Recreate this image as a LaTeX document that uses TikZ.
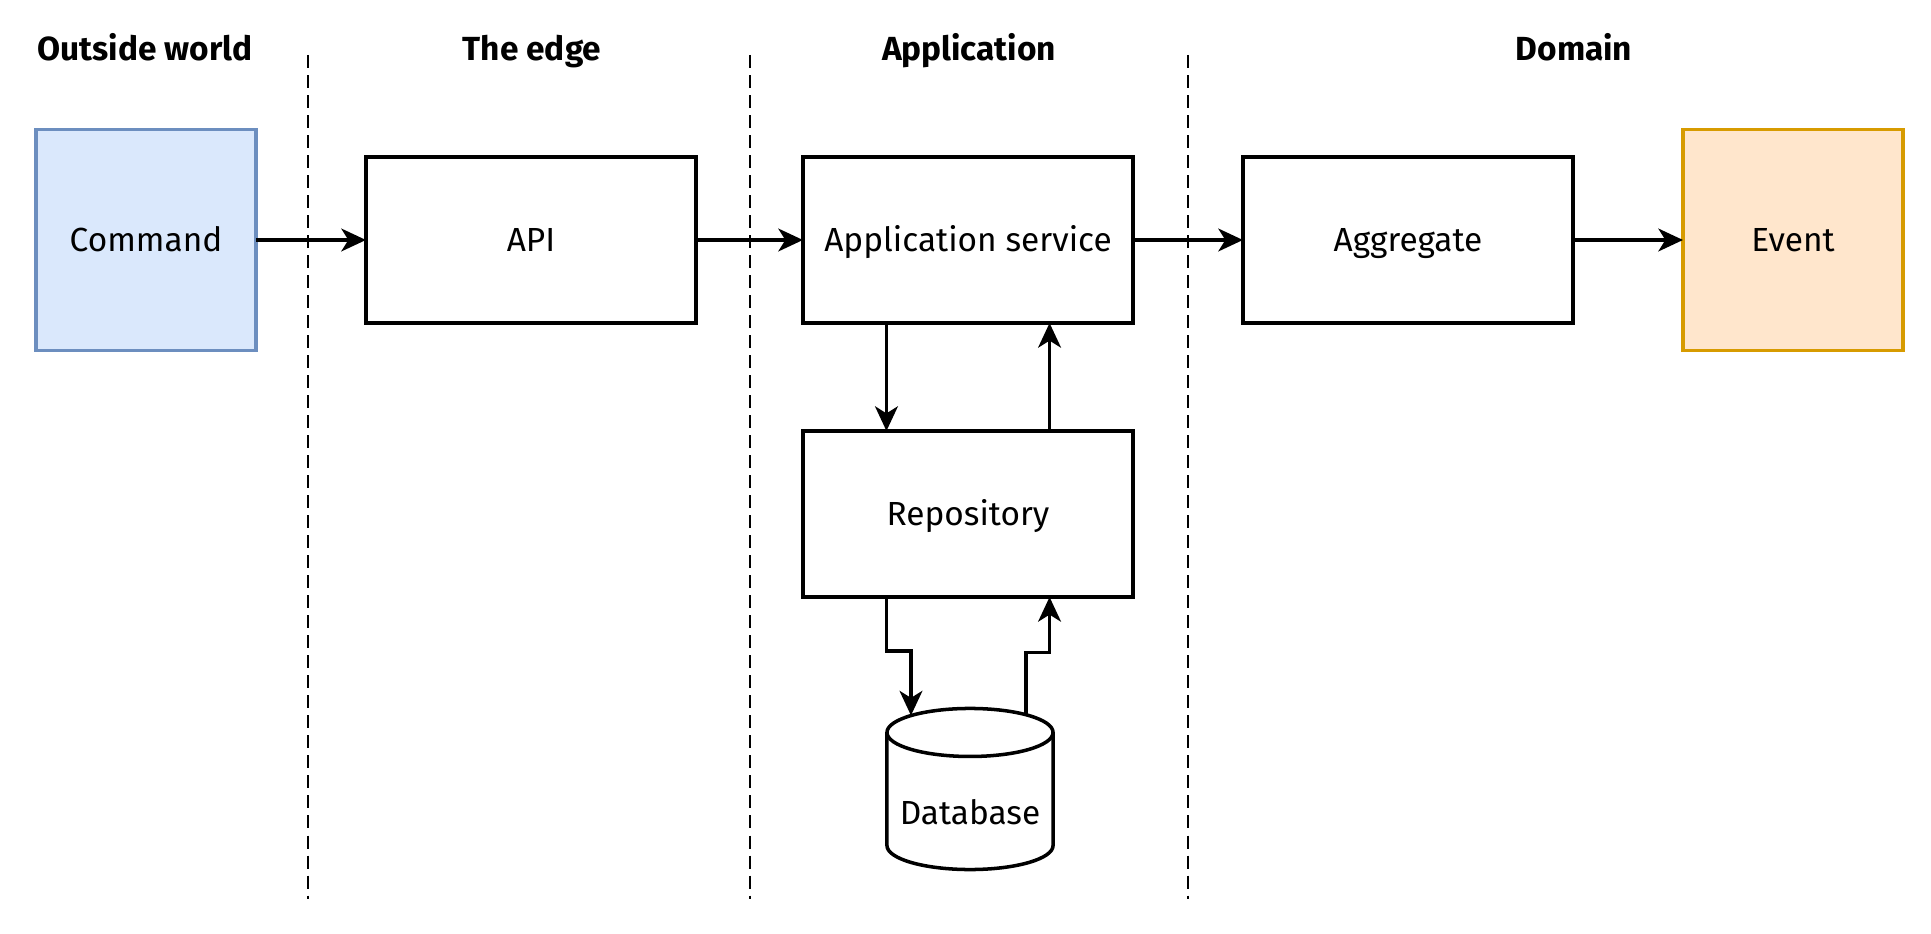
\documentclass[tikz,border=0pt]{standalone}
\usepackage{fontspec}
\setmainfont{Fira Sans}
\usepackage{xcolor}
\usetikzlibrary{arrows.meta}
\definecolor{cmdfill}{HTML}{DAE8FC}
\definecolor{cmdline}{HTML}{6C8EBF}
\definecolor{evtfill}{HTML}{FFE6CC}
\definecolor{evtline}{HTML}{D79B00}

\begin{document}
\begin{tikzpicture}[x=0.01cm, y=-0.01cm,
    box/.style={draw, line width=1pt, fill=white, minimum width=3.3cm, minimum height=1.66cm,
      inner sep=0pt, outer sep=0pt, text height=0.72em, text depth=0.05em,
      font=\fontsize{9.5}{11}\selectfont},
    tall/.style={box, minimum width=2.2cm, minimum height=2.21cm},
    zone/.style={text height=0.72em, text depth=0.05em, font=\fontsize{9.5}{11}\selectfont\bfseries},
    fence/.style={line width=0.7pt, dash pattern=on 0.13cm off 0.07cm},
    link/.style={line width=0.9pt, -{Stealth[length=7pt, width=6.5pt, inset=2pt]}}]

      \useasboundingbox (0,0) rectangle (1931,934);

      % zone titles
      \node[zone] (tout) at (145,49) {Outside world};
      \node[zone] (tedge) at (532,49) {The edge};
      \node[zone] (tapp) at (969,49) {Application};
      \node[zone] (tdom) at (1574,49) {Domain};

      % zone borders
      \foreach \xx in {308,750,1188}{
        \draw[fence] (\xx,55) -- (\xx,899);
      }

      % boxes
      \node[tall, fill=cmdfill, draw=cmdline] (cmd) at (146,240) {Command};
      \node[box] (api) at (531,240) {API};
      \node[box] (appsvc) at (968,240) {Application service};
      \node[box] (agg) at (1408,240) {Aggregate};
      \node[tall, fill=evtfill, draw=evtline] (evt) at (1793,240) {Event};
      \node[box] (repo) at (968,514) {Repository};

      % database
      \node[minimum width=1.66cm, minimum height=1.61cm, inner sep=0pt, outer sep=0pt] (db) at (970,789) {};
      \draw[line width=1pt] ([yshift=-0.24cm]db.north west) -- ([yshift=0.24cm]db.south west)
        arc[start angle=180, end angle=360, x radius=0.83cm, y radius=0.24cm]
        -- ([yshift=-0.24cm]db.north east);
      \draw[line width=1pt] ([yshift=-0.24cm]db.north) ellipse[x radius=0.83cm, y radius=0.24cm];
      \node[text height=0.72em, text depth=0.05em, font=\fontsize{9.5}{11}\selectfont] (dbname)
        at ([yshift=-0.24cm]db.center) {Database};

      % arrows
      \draw[link] (cmd) -- (api);
      \draw[link] (api) -- (appsvc);
      \draw[link] (appsvc) -- (agg);
      \draw[link] (agg) -- (evt);
      \draw[link] ([xshift=-0.815cm]appsvc.south) -- ([xshift=-0.815cm]repo.north);
      \draw[link] ([xshift=0.815cm]repo.north) -- ([xshift=0.815cm]appsvc.south);
      \draw[link] ([xshift=-0.815cm]repo.south) -- ++(0,54) -| ([shift={(-0.59cm,-0.07cm)}]db.north);
      \draw[link] ([shift={(0.56cm,-0.07cm)}]db.north) -- ++(0,-63) -| ([xshift=0.815cm]repo.south);

    \end{tikzpicture}
\end{document}
